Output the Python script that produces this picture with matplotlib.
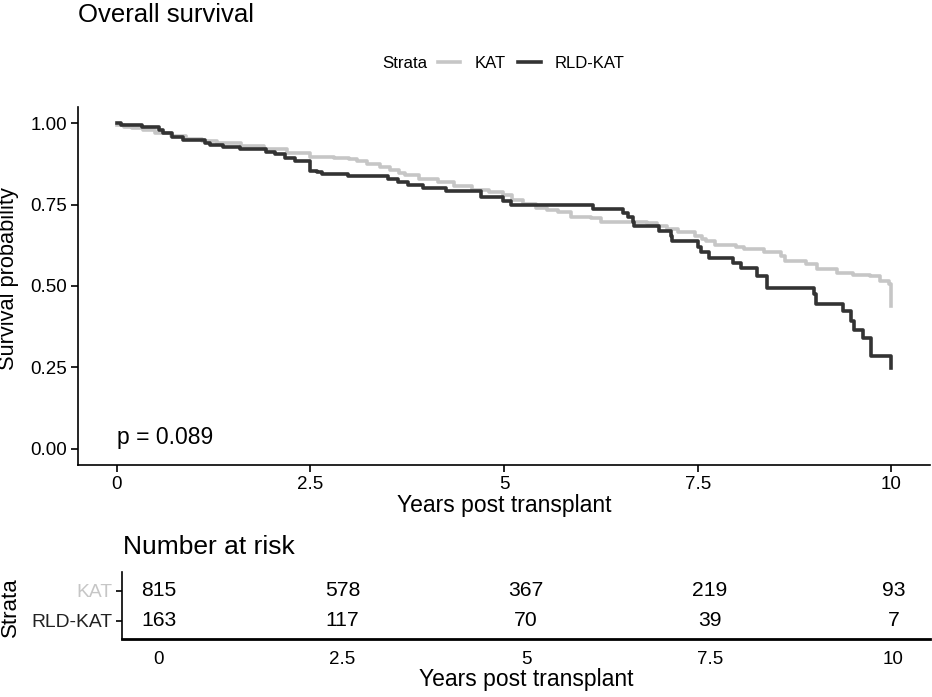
import numpy as np
import matplotlib
matplotlib.use("Agg")
import matplotlib.pyplot as plt
from matplotlib.lines import Line2D

plt.rcParams['font.family'] = ['Liberation Sans', 'DejaVu Sans']

# Kaplan-Meier curves (years, survival)
kat_t = [0, 0.1, 0.2, 0.34, 0.5, 0.7, 0.9, 1.1, 1.3, 1.6, 1.9, 2.2, 2.5, 2.8, 3.0,
         3.1, 3.23, 3.4, 3.53, 3.65, 3.72, 3.9, 4.15, 4.35, 4.58, 4.8, 4.99, 5.1,
         5.25, 5.41, 5.55, 5.7, 5.87, 6.12, 6.25, 6.5, 6.85, 6.98, 7.1, 7.24, 7.46,
         7.55, 7.61, 7.72, 8.0, 8.1, 8.35, 8.57, 8.63, 8.9, 9.04, 9.3, 9.5, 9.73,
         9.85, 9.97, 10.0]
kat_s = [0.995, 0.99, 0.985, 0.978, 0.97, 0.96, 0.952, 0.945, 0.938, 0.93, 0.922,
         0.91, 0.897, 0.893, 0.890, 0.885, 0.875, 0.865, 0.857, 0.848, 0.840, 0.830,
         0.819, 0.808, 0.795, 0.788, 0.780, 0.765, 0.752, 0.740, 0.733, 0.726, 0.713,
         0.709, 0.698, 0.697, 0.695, 0.683, 0.675, 0.665, 0.654, 0.645, 0.639, 0.625,
         0.620, 0.613, 0.603, 0.593, 0.577, 0.569, 0.552, 0.540, 0.535, 0.531, 0.515,
         0.505, 0.438]

rld_t = [0, 0.06, 0.32, 0.55, 0.60, 0.71, 0.86, 1.14, 1.20, 1.37, 1.59, 1.93, 2.04,
         2.17, 2.30, 2.49, 2.58, 2.65, 2.98, 3.50, 3.63, 3.76, 3.95, 4.25, 4.70, 4.99,
         5.09, 6.15, 6.53, 6.60, 6.66, 6.68, 7.00, 7.15, 7.17, 7.50, 7.54, 7.65, 7.95,
         8.06, 8.27, 8.40, 9.00, 9.03, 9.37, 9.48, 9.52, 9.63, 9.74, 10.0]
rld_s = [1.0, 0.995, 0.989, 0.980, 0.970, 0.958, 0.950, 0.940, 0.932, 0.927, 0.920,
         0.913, 0.906, 0.893, 0.883, 0.852, 0.850, 0.845, 0.838, 0.829, 0.819, 0.811,
         0.800, 0.791, 0.773, 0.762, 0.750, 0.737, 0.724, 0.713, 0.698, 0.685, 0.670,
         0.654, 0.637, 0.621, 0.603, 0.587, 0.572, 0.555, 0.531, 0.495, 0.474, 0.445,
         0.423, 0.392, 0.366, 0.340, 0.284, 0.248]

# number at risk table
strata = ["KAT", "RLD-KAT"]
risk_times = [0, 2.5, 5, 7.5, 10]
risk_kat = [815, 578, 367, 219, 93]
risk_rld = [163, 117, 70, 39, 7]
xticklabels = ["0", "2.5", "5", "7.5", "10"]
p_text = "p = 0.089"

col_kat = "#c6c6c6"
col_rld = "#333333"

fig = plt.figure(figsize=(9.32, 6.97), dpi=100)

ax = fig.add_axes([0.0837, 0.3329, 0.9143, 0.5136])
ax.step(kat_t, kat_s, where="post", color=col_kat, lw=2.6)
ax.step(rld_t, rld_s, where="post", color=col_rld, lw=2.6)
ax.set_xlim(-0.5, 10.5)
ax.set_ylim(-0.05, 1.05)
ax.set_xticks(risk_times)
ax.set_xticklabels(xticklabels)
ax.set_yticks([0, 0.25, 0.5, 0.75, 1.0])
ax.set_yticklabels(["0.00", "0.25", "0.50", "0.75", "1.00"])
ax.set_xlabel("Years post transplant", fontsize=16.5, labelpad=1)
ax.set_ylabel("Survival probability", fontsize=15.7)
ax.yaxis.set_label_coords(-0.069, 0.52)
ax.text(0, 0.0, p_text, fontsize=16.5, ha="left", va="bottom")
for side in ["top", "right"]:
    ax.spines[side].set_visible(False)
for side in ["left", "bottom"]:
    ax.spines[side].set_linewidth(1.2)
ax.tick_params(labelsize=13.5, length=5, width=1.2, colors="black", pad=3)

fig.text(0.0837, 0.978, "Overall survival", fontsize=18.5, ha="left", va="center")

# legend
fig.text(0.434, 0.9096, "Strata", fontsize=12.2, ha="center", va="center")
handles = [Line2D([0], [0], color=col_kat, lw=2.6),
           Line2D([0], [0], color=col_rld, lw=2.6)]
fig.legend(handles, strata, loc="center", bbox_to_anchor=(0.570, 0.9096), ncol=2,
           frameon=False, fontsize=12, handlelength=1.35, handletextpad=0.84,
           columnspacing=0.75, borderpad=0, borderaxespad=0)

# risk table
tx = fig.add_axes([0.1309, 0.0833, 0.8671, 0.0960])
for t, n in zip(risk_times, risk_kat):
    tx.text(t, 2, str(n), fontsize=15.2, ha="center", va="center")
for t, n in zip(risk_times, risk_rld):
    tx.text(t, 1, str(n), fontsize=15.2, ha="center", va="center")
tx.set_xlim(-0.5, 10.5)
tx.set_ylim(0.40, 2.62)
tx.set_xticks(risk_times)
tx.set_xticklabels(xticklabels)
tx.set_yticks([2, 1])
tx.set_yticklabels(strata)
tx.get_yticklabels()[0].set_color(col_kat)
tx.get_yticklabels()[1].set_color("#222222")
tx.tick_params(axis="x", length=0, labelsize=13.5, pad=9)
tx.tick_params(axis="y", length=4, width=1.2, labelsize=13.9, pad=3)
for side in ["top", "right"]:
    tx.spines[side].set_visible(False)
tx.spines["left"].set_linewidth(1.2)
tx.spines["bottom"].set_linewidth(2.0)
tx.set_xlabel("Years post transplant", fontsize=16.5, labelpad=0)
fig.text(0.0107, 0.129, "Strata", fontsize=16, rotation=90, ha="center", va="center")
fig.text(0.132, 0.2156, "Number at risk", fontsize=19, ha="left", va="center")

fig.savefig("out.png", dpi=100)
